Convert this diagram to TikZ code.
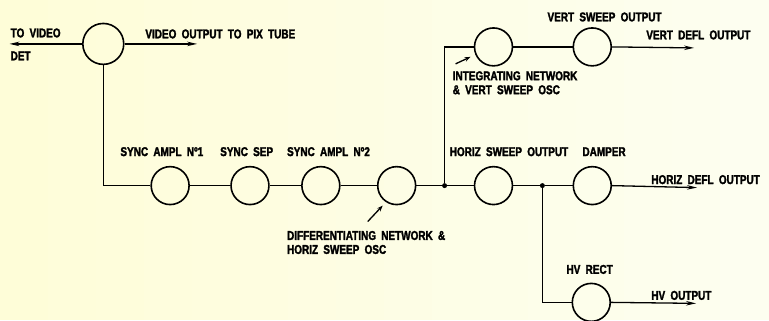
\documentclass[tikz,border=0pt]{standalone}
\usepackage{fontspec}
\newfontfamily\lblfont[FakeStretch=0.78,WordSpace=1.9,FakeBold=2]{Liberation Sans}
\usetikzlibrary{arrows.meta}
\definecolor{bgleft}{RGB}{254,253,216}
\definecolor{bgright}{RGB}{253,254,240}
\begin{document}
\begin{tikzpicture}[x=1pt,y=-1pt,
  blk/.style={circle,draw=black,line width=1.6pt,minimum size=38pt,inner sep=0pt},
  wire/.style={draw=black,line width=1.3pt},
  outwire/.style={wire,-{Stealth[length=10pt,width=4.5pt]}},
  ptr/.style={draw=black,line width=1.3pt,-{Stealth[length=6pt,width=4.5pt]}},
  lbl/.style={anchor=west,inner sep=0pt,font=\lblfont\bfseries\fontsize{12.8}{13}\selectfont},
  dot/.style={circle,fill=black,inner sep=0pt,minimum size=5pt}]
\foreach \i in {0,...,15} {
  \pgfmathtruncatemacro{\p}{\i*100/15}
  \fill[bgright!\p!bgleft] (\i*48.1-0.5,0) rectangle (\i*48.1+48.6,321);
}
\useasboundingbox (0,0) rectangle (769,321);
% blocks
\node[blk,minimum size=41pt] (c0) at (103,44) {};
\node[blk] (s1) at (170,186) {};
\node[blk] (s2) at (250,186) {};
\node[blk] (s3) at (321,186) {};
\node[blk] (df) at (397,186) {};
\node[blk] (hs) at (494,186) {};
\node[blk] (dm) at (593,186) {};
\node[blk] (hv) at (592,303) {};
\node[blk] (ig) at (494,47) {};
\node[blk] (vs) at (593,47) {};
\node[dot] (j1) at (445,186) {};
\node[dot] (j2) at (543,186) {};
\coordinate (a0) at (9,44);
\coordinate (a1) at (197,44);
\coordinate (a2) at (695,48);
\coordinate (a3) at (698,188);
\coordinate (a4) at (697,304);
\coordinate (pd0) at (368,222);
\coordinate (pd1) at (383,206);
\coordinate (pi0) at (456,64);
\coordinate (pi1) at (471,57);
% wires
\draw[outwire] (c0.west) -- (a0);
\draw[outwire] (c0.east) -- (a1);
\draw[wire] (c0.south) |- (s1.west);
\draw[wire] (s1.east) -- (s2.west);
\draw[wire] (s2.east) -- (s3.west);
\draw[wire] (s3.east) -- (df.west);
\draw[wire] (df.east) -- (j1) -- (hs.west);
\draw[wire] (j1) |- (ig.west);
\draw[wire] (ig.east) -- (vs.west);
\draw[outwire] (vs.east) -- (a2);
\draw[wire] (hs.east) -- (j2) -- (dm.west);
\draw[outwire] (dm.east) -- (a3);
\draw[wire] (j2) |- (hv.west);
\draw[outwire] (hv.east) -- (a4);
\draw[ptr] (pd0) -- (pd1);
\draw[ptr] (pi0) -- (pi1);
% labels
\node[lbl] (l1) at (10,33) {TO VIDEO};
\node[lbl] (l2) at (10,56) {DET};
\node[lbl] (l3) at (145,34) {VIDEO OUTPUT TO PIX TUBE};
\node[lbl] (l4) at (120,152) {SYNC AMPL Nº1};
\node[lbl] (l5) at (220,152) {SYNC SEP};
\node[lbl] (l6) at (287,152) {SYNC AMPL Nº2};
\node[lbl] (l7) at (287,236) {DIFFERENTIATING NETWORK \&};
\node[lbl] (l8) at (287,250) {HORIZ SWEEP OSC};
\node[lbl] (l9) at (450,152) {HORIZ SWEEP OUTPUT};
\node[lbl] (l10) at (583,152) {DAMPER};
\node[lbl] (l11) at (652,180) {HORIZ DEFL OUTPUT};
\node[lbl] (l12) at (567,270) {HV RECT};
\node[lbl] (l13) at (652,296) {HV OUTPUT};
\node[lbl] (l14) at (548,17) {VERT SWEEP OUTPUT};
\node[lbl] (l15) at (647,35) {VERT DEFL OUTPUT};
\node[lbl] (l16) at (453,76) {INTEGRATING NETWORK};
\node[lbl] (l17) at (453,90) {\& VERT SWEEP OSC};
\end{tikzpicture}
\end{document}
